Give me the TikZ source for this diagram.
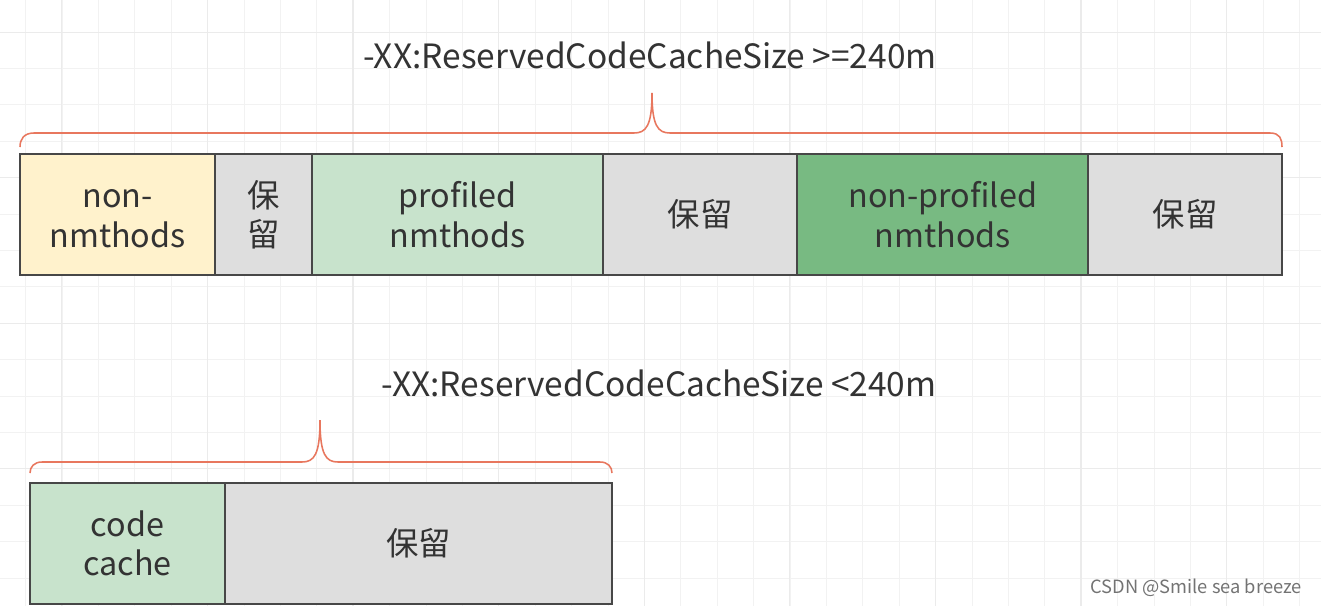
\documentclass[tikz,border=0pt]{standalone}
\usepackage{fontspec}
\setmainfont{Noto Sans CJK SC}
\usepackage{tikz}
\usetikzlibrary{positioning, calc}

\definecolor{yellowfill}{HTML}{FFF2CC}
\definecolor{grayfill}{HTML}{DEDEDE}
\definecolor{greenfill}{HTML}{C8E3CC}
\definecolor{darkgreen}{HTML}{78BA82}
\definecolor{bracecol}{HTML}{E8775E}
\definecolor{inkcol}{HTML}{333333}

\begin{document}
\begin{tikzpicture}[x=0.025cm, y=-0.025cm, node distance=0pt,
			cell/.style={draw=inkcol!90, line width=1.4pt, outer sep=0pt, inner sep=0pt,
				minimum height=3.025cm, align=center, text=inkcol,
				font=\fontsize{23}{28}\selectfont},
			brace/.style={draw=bracecol, line width=1.1pt},
			title/.style={text=inkcol, font=\fontsize{23.8}{28}\selectfont},
			gridminor/.style={draw=black!5, line width=0.6pt},
			gridmajor/.style={draw=black!8, line width=0.8pt} ]
			\useasboundingbox (0,0) rectangle (1321,606);
			\fill[white] (0,0) rectangle (1321,606);
			
			%Grade de fundo:
			\foreach \g in {0,...,35} {
				\draw[gridminor] ({25.7+36.4*\g},0) -- ({25.7+36.4*\g},606);}
			\foreach \g in {0,...,16} {
				\draw[gridminor] (0,{32.1+36.4*\g}) -- (1321,{32.1+36.4*\g});}
			\foreach \g in {0,...,8} {
				\draw[gridmajor] ({61.8+145.6*\g},0) -- ({61.8+145.6*\g},606);}
			\foreach \g in {0,...,3} {
				\draw[gridmajor] (0,{32.1+145.6*\g}) -- (1321,{32.1+145.6*\g});}
			
			%Linha de cima (>= 240m):
			\node[cell, fill=yellowfill, minimum width=4.875cm, anchor=north west] (nonnm) at (20,154) {non-\vphantom{fl}\\nmthods};
			\node[cell, fill=grayfill,   minimum width=2.425cm, right=of nonnm]  (keepA)    {保\\留};
			\node[cell, fill=greenfill,  minimum width=7.275cm, right=of keepA]  (prof)     {profiled\\nmthods};
			\node[cell, fill=grayfill,   minimum width=4.85cm,  right=of prof]   (keepB)    {保留};
			\node[cell, fill=darkgreen,  minimum width=7.275cm, right=of keepB]  (nonprof)  {non-profiled\\nmthods};
			\node[cell, fill=grayfill,   minimum width=4.85cm,  right=of nonprof] (keepC)   {保留};
			
			\node[title] (bigsize) at (650,55) {-XX:ReservedCodeCacheSize >=240m};
			
			\draw[brace] (20,147) .. controls (20,139) and (24,133) .. (34,133) -- (634,133)
				.. controls (646,133) and (652,126) .. (652,93)
				.. controls (652,126) and (658,133) .. (670,133) -- (1270,133)
				.. controls (1280,133) and (1282,139) .. (1282,147);
			
			%Linha de baixo (< 240m):
			\node[cell, fill=greenfill, minimum width=4.875cm, anchor=north west] (cache) at (30,483) {code\\cache};
			\node[cell, fill=grayfill,  minimum width=9.675cm, right=of cache] (keepD) {保留};
			
			\node[title] (smallsize) at (659,383) {-XX:ReservedCodeCacheSize <240m};
			
			\draw[brace] (30,473) .. controls (30,467) and (34,462) .. (42,462) -- (302,462)
				.. controls (314,462) and (320,455) .. (320,420)
				.. controls (320,455) and (326,462) .. (338,462) -- (600,462)
				.. controls (608,462) and (612,467) .. (612,473);
			
			\node[text=black!55, font=\fontsize{13}{15}\selectfont, anchor=east] (mark) at (1307,588) {CSDN @Smile sea breeze};
		\end{tikzpicture}
\end{document}
